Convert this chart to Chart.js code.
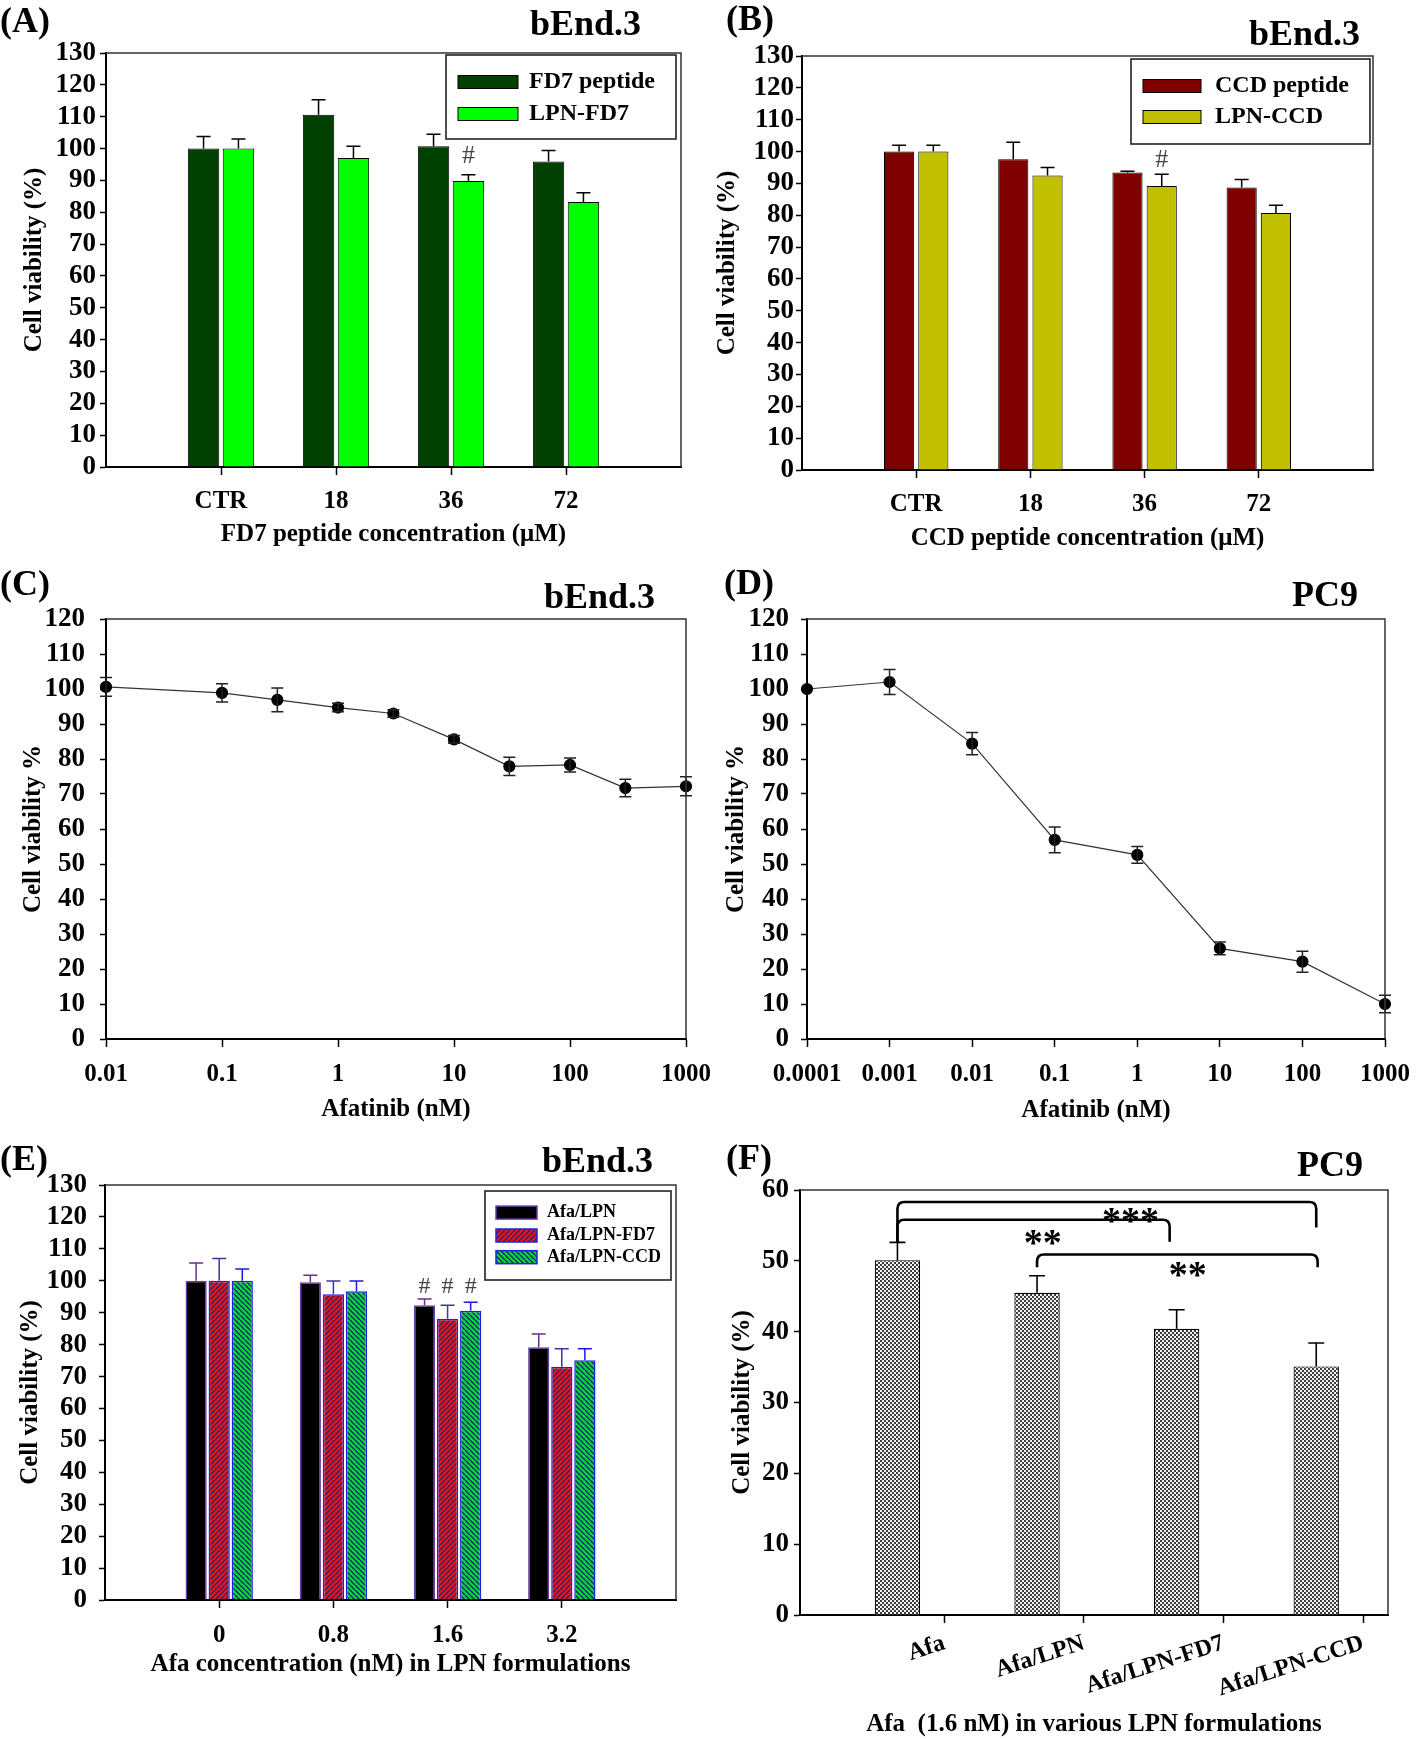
<!DOCTYPE html>
<html><head><meta charset="utf-8">
<script src="https://cdn.jsdelivr.net/npm/chart.js@4.4.1/dist/chart.umd.min.js"></script>
<style>
html,body{margin:0;padding:0;background:#fff;}
body{width:1416px;height:1739px;position:relative;overflow:hidden;font-family:"Liberation Serif","Times New Roman",serif;}
canvas{position:absolute;}
.lbl{position:absolute;font-weight:bold;font-size:36px;line-height:36px;white-space:nowrap;color:#000;}
</style></head><body>
<canvas id="cA"></canvas><canvas id="cB"></canvas><canvas id="cC"></canvas><canvas id="cD"></canvas><canvas id="cE"></canvas><canvas id="cF"></canvas>
<script>
// ---------------- DATA ----------------
const catA = ['CTR', '18', '36', '72'];
const fd7Peptide = [100, 110.6, 100.7, 95.9];
const fd7PeptideErr = [3.8, 4.7, 3.8, 3.5];
const lpnFd7 = [100, 97.0, 89.8, 83.2];
const lpnFd7Err = [3.0, 3.7, 2.0, 2.9];

const catB = ['CTR', '18', '36', '72'];
const ccdPeptide = [100, 97.6, 93.4, 88.7];
const ccdPeptideErr = [2.0, 5.3, 0.4, 2.5];
const lpnCcd = [100, 92.5, 89.2, 80.7];
const lpnCcdErr = [2.0, 2.5, 3.7, 2.4];

const afaDoseC = [0.01, 0.1, 0.3, 1, 3, 10, 30, 100, 300, 1000];
const viabC = [100.6, 98.9, 96.9, 94.7, 93.0, 85.6, 77.9, 78.3, 71.7, 72.2];
const viabCErr = [2.7, 2.6, 3.4, 1.2, 1.1, 1.1, 2.6, 2.0, 2.5, 2.7];
const ticksC = [0.01, 0.1, 1, 10, 100, 1000];
const tickLabelsC = ['0.01', '0.1', '1', '10', '100', '1000'];

const afaDoseD = [0.0001, 0.001, 0.01, 0.1, 1, 10, 100, 1000];
const viabD = [100, 102, 84.4, 56.9, 52.6, 25.9, 22.1, 10.0];
const viabDErr = [0, 3.6, 3.2, 3.7, 2.4, 1.8, 3.0, 2.5];
const ticksD = [0.0001, 0.001, 0.01, 0.1, 1, 10, 100, 1000];
const tickLabelsD = ['0.0001', '0.001', '0.01', '0.1', '1', '10', '100', '1000'];

const catE = ['0', '0.8', '1.6', '3.2'];
const afaLpn = [100, 99.5, 92.3, 79.2];
const afaLpnErr = [5.6, 2.2, 2.0, 4.1];
const afaLpnFd7 = [100, 95.8, 88.1, 73.1];
const afaLpnFd7Err = [7.0, 4.1, 4.2, 5.6];
const afaLpnCcd = [100, 96.7, 90.6, 75.1];
const afaLpnCcdErr = [3.7, 3.2, 2.7, 3.6];

const catF = ['Afa', 'Afa/LPN', 'Afa/LPN-FD7', 'Afa/LPN-CCD'];
const viabF = [50.1, 45.5, 40.4, 35.1];
const viabFErr = [2.5, 2.4, 2.7, 3.3];

// ---------------- HELPERS ----------------
const pad = a => [null, ...a, null];
const SERIF = "'Liberation Serif', 'Times New Roman', serif";
Chart.defaults.font.family = SERIF;
Chart.defaults.font.weight = 'bold';
Chart.defaults.color = '#000';
Chart.defaults.animation = false;
Chart.defaults.plugins.legend.display = false;
Chart.defaults.plugins.tooltip.enabled = false;

function hatch(bg, line, dir) {
  const s = 5, c = document.createElement('canvas'); c.width = s; c.height = s;
  const g = c.getContext('2d'); g.fillStyle = bg; g.fillRect(0, 0, s, s);
  g.strokeStyle = line; g.lineWidth = 1.5; g.beginPath();
  for (let k = -1; k <= 1; k++) {
    if (dir > 0) { g.moveTo(k * s, s); g.lineTo(k * s + s, 0); }
    else { g.moveTo(k * s, 0); g.lineTo(k * s + s, s); }
  }
  g.stroke(); return g.createPattern(c, 'repeat');
}
function checker() {
  const c = document.createElement('canvas'); c.width = 4; c.height = 4;
  const g = c.getContext('2d'); g.fillStyle = '#f4f4f4'; g.fillRect(0, 0, 4, 4);
  g.fillStyle = '#3a3a3a'; g.fillRect(0, 0, 2, 2); g.fillRect(2, 2, 2, 2);
  return g.createPattern(c, 'repeat');
}

const framePlugin = {
  id: 'frame',
  afterDraw(chart) {
    const {ctx, chartArea: a} = chart;
    ctx.save(); ctx.strokeStyle = '#333'; ctx.lineWidth = 1.5;
    ctx.beginPath(); ctx.moveTo(a.left, a.top); ctx.lineTo(a.right, a.top); ctx.lineTo(a.right, a.bottom); ctx.stroke();
    ctx.restore();
  }
};
const errPlugin = {
  id: 'errBars',
  afterDatasetsDraw(chart) {
    const ctx = chart.ctx;
    chart.data.datasets.forEach((ds, di) => {
      if (!ds.errors) return;
      const meta = chart.getDatasetMeta(di), ys = chart.scales[meta.yAxisID];
      ctx.save(); ctx.strokeStyle = ds.errorColor || '#000'; ctx.lineWidth = ds.errorWidth || 1.5;
      const cw = ds.capHalf || 7;
      meta.data.forEach((el, i) => {
        const e = ds.errors[i]; if (e === null || e === undefined || e === 0) return;
        const v = meta.controller.getParsed(i).y; if (v === null || isNaN(v)) return;
        const x = el.x, yHi = ys.getPixelForValue(v + e);
        const yLo = ds.errorMode === 'both' ? ys.getPixelForValue(v - e) : ys.getPixelForValue(v);
        ctx.beginPath(); ctx.moveTo(x, yLo); ctx.lineTo(x, yHi);
        ctx.moveTo(x - cw, yHi); ctx.lineTo(x + cw, yHi);
        if (ds.errorMode === 'both') { ctx.moveTo(x - cw, yLo); ctx.lineTo(x + cw, yLo); }
        ctx.stroke();
      });
      ctx.restore();
    });
  }
};
const marksPlugin = {
  id: 'marks',
  afterDatasetsDraw(chart, args, o) {
    if (!o || !o.items) return;
    const ctx = chart.ctx, xs = chart.scales.x, ys = chart.scales.y;
    ctx.save();
    o.items.forEach(it => {
      if (it.type === 'text') {
        const px = it.dataset !== undefined ? chart.getDatasetMeta(it.dataset).data[it.index].x : xs.getPixelForValue(it.x);
        ctx.font = it.font; ctx.fillStyle = it.color || '#000'; ctx.textAlign = 'center'; ctx.textBaseline = 'middle';
        ctx.fillText(it.text, px, ys.getPixelForValue(it.y));
      } else if (it.type === 'bracket') {
        const x1 = xs.getPixelForValue(it.x1), x2 = xs.getPixelForValue(it.x2), y = ys.getPixelForValue(it.y);
        const e1 = ys.getPixelForValue(it.y1), e2 = ys.getPixelForValue(it.y2), r = 7;
        ctx.beginPath(); ctx.moveTo(x1, e1); ctx.lineTo(x1, y + r); ctx.quadraticCurveTo(x1, y, x1 + r, y);
        ctx.lineTo(x2 - r, y); ctx.quadraticCurveTo(x2, y, x2, y + r); ctx.lineTo(x2, e2);
        ctx.lineWidth = 2.6; ctx.strokeStyle = '#000'; ctx.stroke();
      }
    });
    ctx.restore();
  }
};
const legendPlugin = {
  id: 'boxLegend',
  afterDraw(chart, args, o) {
    if (!o || !o.rows) return;
    const ctx = chart.ctx;
    ctx.save();
    ctx.lineWidth = 1.6; ctx.strokeStyle = '#222'; ctx.strokeRect(o.x, o.y, o.w, o.h);
    chart.data.datasets.forEach((ds, i) => {
      const cy = o.rows[i];
      ctx.fillStyle = ds.backgroundColor; ctx.fillRect(o.swatchX, cy - o.swatchH / 2, o.swatchW, o.swatchH);
      ctx.lineWidth = ds.borderWidth || 1; ctx.strokeStyle = ds.borderColor || '#000';
      ctx.strokeRect(o.swatchX, cy - o.swatchH / 2, o.swatchW, o.swatchH);
      ctx.fillStyle = '#000'; ctx.font = o.font; ctx.textAlign = 'left'; ctx.textBaseline = 'middle';
      ctx.fillText(ds.label, o.textX, cy);
    });
    ctx.restore();
  }
};

function yAxis(max, yTitle, tickPad, titlePad) {
  return {
    type: 'linear', min: 0, max: max,
    ticks: {stepSize: 10, autoSkip: false, font: {size: 27, weight: 'bold'}, padding: tickPad, color: '#000'},
    grid: {drawOnChartArea: false, drawTicks: true, tickLength: 6, tickWidth: 1.5, tickColor: '#000'},
    border: {display: true, color: '#000', width: 2},
    title: {display: true, text: yTitle, font: {size: 25, weight: 'bold'}, color: '#000', padding: {top: titlePad, bottom: 0}}
  };
}
function xBase(xTitle, tickPad, titlePadB) {
  return {
    grid: {drawOnChartArea: false, drawTicks: true, tickLength: 8, tickWidth: 1.5, offset: false,
      tickColor: c => (c.tick && c.tick.label === '') ? 'rgba(0,0,0,0)' : '#000'},
    border: {display: true, color: '#000', width: 2},
    ticks: {font: {size: 25, weight: 'bold'}, padding: tickPad, autoSkip: false, maxRotation: 0, color: '#000'},
    title: {display: true, text: xTitle, font: {size: 25, weight: 'bold'}, color: '#000', padding: {top: 0, bottom: titlePadB}}
  };
}
function makeChart(id, p, cfg) {
  const cv = document.getElementById(id);
  cv.width = p.w; cv.height = p.h; cv.style.left = p.x + 'px'; cv.style.top = p.y + 'px';
  const o = cfg.options;
  o.responsive = false; o.animation = false; o.devicePixelRatio = 1; o.maintainAspectRatio = false;
  o.layout = {padding: {left: 0, top: p.t - p.y, right: p.x + p.w - p.r, bottom: 0}};
  o.scales.x.afterFit = s => { s.height = p.y + p.h - p.b; s.paddingLeft = 0; s.paddingRight = 0; };
  o.scales.y.afterFit = s => { s.width = p.l - p.x; s.paddingTop = 0; s.paddingBottom = 0; };
  cfg.plugins = [framePlugin, errPlugin, marksPlugin, legendPlugin];
  return new Chart(cv, cfg);
}
function label(text, cy, left, right) {
  const d = document.createElement('div'); d.className = 'lbl'; d.textContent = text;
  d.style.top = (cy - 18) + 'px';
  if (left !== null) d.style.left = left + 'px'; else d.style.right = (1416 - right) + 'px';
  document.body.appendChild(d);
}

// ---------------- PANELS ----------------
const P = {
  A: {x: 0, y: 0, w: 708, h: 560, l: 106, t: 53, r: 681, b: 467},
  B: {x: 708, y: 0, w: 708, h: 560, l: 802, t: 56, r: 1373, b: 470},
  C: {x: 0, y: 560, w: 730, h: 580, l: 106, t: 619, r: 686, b: 1039},
  D: {x: 708, y: 560, w: 708, h: 580, l: 807, t: 619, r: 1385, b: 1039},
  E: {x: 0, y: 1120, w: 708, h: 619, l: 105, t: 1185, r: 676, b: 1600},
  F: {x: 708, y: 1120, w: 708, h: 630, l: 800, t: 1190, r: 1388, b: 1615}
};

// Panel A
(function () {
  const x = Object.assign({type: 'category', offset: false}, xBase('FD7 peptide concentration (\u03BCM)', 12, 10));
  makeChart('cA', P.A, {
    type: 'bar',
    data: {labels: pad(catA), datasets: [
      {label: 'FD7 peptide', data: pad(fd7Peptide), errors: pad(fd7PeptideErr), errorMode: 'up',
        backgroundColor: '#004000', borderColor: '#000', borderWidth: 1, categoryPercentage: 0.607, barPercentage: 0.9},
      {label: 'LPN-FD7', data: pad(lpnFd7), errors: pad(lpnFd7Err), errorMode: 'up',
        backgroundColor: '#00ff00', borderColor: '#000', borderWidth: 1, categoryPercentage: 0.607, barPercentage: 0.9}
    ]},
    options: {
      scales: {x: x, y: yAxis(130, 'Cell viability (%)', 4, 20)},
      plugins: {
        boxLegend: {x: 446, y: 55, w: 230, h: 84, swatchX: 458, swatchW: 60, swatchH: 13, rows: [82, 114], textX: 529, font: "bold 24px " + SERIF},
        marks: {items: [{type: 'text', dataset: 1, index: catA.indexOf('36') + 1, y: 97.5, text: '#', font: "26px " + SERIF, color: '#444'}]}
      }
    }
  });
})();

// Panel B
(function () {
  const x = Object.assign({type: 'category', offset: false}, xBase('CCD peptide concentration (\u03BCM)', 12, 6));
  makeChart('cB', P.B, {
    type: 'bar',
    data: {labels: pad(catB), datasets: [
      {label: 'CCD peptide', data: pad(ccdPeptide), errors: pad(ccdPeptideErr), errorMode: 'up',
        backgroundColor: '#800000', borderColor: '#000', borderWidth: 1, categoryPercentage: 0.6, barPercentage: 0.88},
      {label: 'LPN-CCD', data: pad(lpnCcd), errors: pad(lpnCcdErr), errorMode: 'up',
        backgroundColor: '#c0c000', borderColor: '#000', borderWidth: 1, categoryPercentage: 0.6, barPercentage: 0.88}
    ]},
    options: {
      scales: {x: x, y: yAxis(130, 'Cell viability (%)', 2, 5)},
      plugins: {
        boxLegend: {x: 423, y: 59, w: 239, h: 85, swatchX: 435, swatchW: 58, swatchH: 13, rows: [86, 117], textX: 507, font: "bold 24px " + SERIF},
        marks: {items: [{type: 'text', dataset: 1, index: catB.indexOf('36') + 1, y: 97.3, text: '#', font: "26px " + SERIF, color: '#444'}]}
      }
    }
  });
})();

// Panels C and D
function logPanel(id, p, doses, vals, errs, ticks, tickLabels, min, max, yTickPad, yTitlePad, xTickPad, xTitlePad) {
  const x = Object.assign({type: 'logarithmic', min: min, max: max}, xBase('Afatinib (nM)', xTickPad, xTitlePad));
  x.afterBuildTicks = s => { s.ticks = ticks.map(v => ({value: v})); };
  x.ticks.callback = (v, i) => tickLabels[i];
  const y = yAxis(120, 'Cell viability %', yTickPad, yTitlePad);
  makeChart(id, p, {
    type: 'line',
    data: {datasets: [{label: 'Afatinib', data: doses.map((d, i) => ({x: d, y: vals[i]})), errors: errs, errorMode: 'both',
      errorColor: '#222', errorWidth: 1.5, capHalf: 6, clip: false,
      borderColor: '#333', borderWidth: 1.2, pointRadius: 5.5, pointBackgroundColor: '#000', pointBorderColor: '#000', tension: 0}]},
    options: {scales: {x: x, y: y}}
  });
}
logPanel('cC', P.C, afaDoseC, viabC, viabCErr, ticksC, tickLabelsC, 0.01, 1000, 15, 19, 13, 15);
logPanel('cD', P.D, afaDoseD, viabD, viabDErr, ticksD, tickLabelsD, 0.0001, 1000, 12, 13.5, 13, 14);

// Panel E
(function () {
  const x = Object.assign({type: 'category', offset: false}, xBase('Afa concentration (nM) in LPN formulations', 13, 59));
  const i16 = catE.indexOf('1.6') + 1;
  const mk = {font: "24px " + SERIF, color: '#444'};
  makeChart('cE', P.E, {
    type: 'bar',
    data: {labels: pad(catE), datasets: [
      {label: 'Afa/LPN', data: pad(afaLpn), errors: pad(afaLpnErr), errorMode: 'up', errorColor: '#6a2c91',
        backgroundColor: '#000000', borderColor: '#6a3aa8', borderWidth: 1.5, categoryPercentage: 0.606, barPercentage: 0.92},
      {label: 'Afa/LPN-FD7', data: pad(afaLpnFd7), errors: pad(afaLpnFd7Err), errorMode: 'up', errorColor: '#3a36a0',
        backgroundColor: hatch('#ff1010', '#25256e', 1), borderColor: '#2020e0', borderWidth: 1.5, categoryPercentage: 0.606, barPercentage: 0.92},
      {label: 'Afa/LPN-CCD', data: pad(afaLpnCcd), errors: pad(afaLpnCcdErr), errorMode: 'up', errorColor: '#1a1ae8',
        backgroundColor: hatch('#00dd30', '#1f2a7a', -1), borderColor: '#2020e0', borderWidth: 1.5, categoryPercentage: 0.606, barPercentage: 0.92}
    ]},
    options: {
      scales: {x: x, y: yAxis(130, 'Cell viability (%)', 12, 16)},
      plugins: {
        boxLegend: {x: 485, y: 71, w: 186, h: 89, swatchX: 496, swatchW: 41, swatchH: 13, rows: [92.6, 115.5, 137.2], textX: 547, font: "bold 18px " + SERIF},
        marks: {items: [0, 1, 2].map(d => Object.assign({type: 'text', dataset: d, index: i16, y: 98.1, text: '#'}, mk))}
      }
    }
  });
})();

// Panel F
(function () {
  const x = Object.assign({type: 'linear', min: 0.302, max: 4.514, offset: false}, xBase('Afa  (1.6 nM) in various LPN formulations', 6, 10));
  x.afterBuildTicks = s => { s.ticks = catF.map((c, i) => ({value: i + 1.335})); };
  x.ticks.callback = (v, i) => catF[i];
  x.ticks.minRotation = 18; x.ticks.maxRotation = 18;
  x.ticks.font = {size: 24, weight: 'bold'};
  const y = yAxis(60, 'Cell viability (%)', 5, 20);
  const star = "bold 38px " + SERIF;
  makeChart('cF', P.F, {
    type: 'bar',
    data: {datasets: [{label: 'Afa 1.6 nM', data: catF.map((c, i) => ({x: i + 1, y: viabF[i]})), errors: viabFErr, errorMode: 'up',
      errorColor: '#000', errorWidth: 1.6, capHalf: 8,
      backgroundColor: checker(), borderColor: '#000', borderWidth: 1.2, categoryPercentage: 0.325, barPercentage: 1}]},
    options: {
      scales: {x: x, y: y},
      plugins: {marks: {items: [
        {type: 'text', x: 2.67, y: 55.3, text: '***', font: star},
        {type: 'text', x: 2.04, y: 52.2, text: '**', font: star},
        {type: 'text', x: 3.08, y: 47.7, text: '**', font: star},
        {type: 'bracket', x1: 1, x2: 4, y: 58.3, y1: 52.6, y2: 54.7},
        {type: 'bracket', x1: 1, x2: 2.95, y: 55.8, y1: 52.6, y2: 52.7},
        {type: 'bracket', x1: 2, x2: 4.01, y: 50.9, y1: 49.1, y2: 49.1}
      ]}}
    }
  });
})();

// Panel labels
label('(A)', 20, 0, null); label('bEnd.3', 23, null, 641);
label('(B)', 18, 726, null); label('bEnd.3', 33, null, 1360);
label('(C)', 583, 0, null); label('bEnd.3', 596, null, 655);
label('(D)', 582, 724, null); label('PC9', 594, null, 1358);
label('(E)', 1158, 0, null); label('bEnd.3', 1160, null, 653);
label('(F)', 1157, 726, null); label('PC9', 1164, null, 1363);
</script>
</body></html>
